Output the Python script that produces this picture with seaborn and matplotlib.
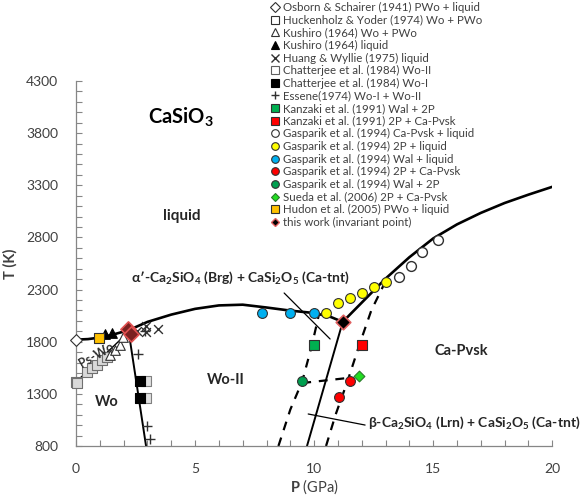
import numpy as np
import pandas as pd
import matplotlib
matplotlib.use("Agg")
import matplotlib.pyplot as plt
from matplotlib.lines import Line2D
import seaborn as sns

# ---------------- data ----------------
# phase boundaries (P in GPa, T in K)
liq_P = [0.0, 0.5, 1.0, 1.5, 2.2, 3.0, 4.0, 5.0, 6.0, 7.0, 8.0, 9.0, 10.0, 10.7, 11.2]
liq_T = [1820, 1825, 1840, 1865, 1910, 1990, 2060, 2115, 2148, 2155, 2128, 2098, 2075, 2037, 1990]
cpv_P = [11.2, 12.0, 13.0, 14.0, 15.0, 16.0, 17.0, 18.0, 19.0, 20.0]
cpv_T = [1990, 2175, 2405, 2610, 2790, 2925, 3035, 3130, 3210, 3285]
wo_pwo_P = [0.0, 2.2]
wo_pwo_T = [1414, 1893]
wo_woII_P = [2.2, 2.94]
wo_woII_T = [1912, 800]
woII_hp_P = [9.7, 11.2]
woII_hp_T = [800, 1990]
dashL_P = [8.5, 9.0, 9.5, 9.9, 10.2]
dashL_T = [800, 1150, 1420, 1760, 2060]
dashR_P = [10.5, 10.9, 11.4, 11.9, 12.4, 13.0]
dashR_T = [800, 1100, 1420, 1770, 2100, 2380]
dashH_P = [9.5, 11.4]
dashH_T = [1404, 1452]

# experimental data
osborn_P, osborn_T = [0.0], [1820]
huck_P = [0.0, 0.03, 0.45, 0.66, 0.87, 1.08, 1.29]
huck_T = [1417, 1400, 1512, 1545, 1577, 1625, 1656]
kush_wp_P = [1.43, 1.64, 1.85, 1.98]
kush_wp_T = [1672, 1720, 1768, 1848]
kush_liq_P = [1.2, 1.5]
kush_liq_T = [1875, 1885]
huang_P = [2.55, 2.95, 2.95, 3.45]
huang_T = [1900, 1950, 1890, 1920]
chat2_P = [2.95, 2.95]
chat2_T = [1420, 1260]
chat1_P = [2.7, 2.7]
chat1_T = [1420, 1260]
essene_P = [2.6, 3.0, 3.1, 2.9]
essene_T = [1680, 990, 870, 1900]
kanz_w_P, kanz_w_T = [10.0], [1768]
kanz_c_P, kanz_c_T = [12.0], [1768]
gas_cl_P = [13.55, 14.05, 14.55, 15.2]
gas_cl_T = [2420, 2530, 2660, 2775]
gas_2l_P = [10.5, 11.0, 11.5, 12.0, 12.5, 13.0]
gas_2l_T = [2075, 2171, 2219, 2267, 2324, 2372]
gas_wl_P = [7.8, 9.0, 10.0]
gas_wl_T = [2075, 2075, 2075]
gas_2c_P = [11.5, 11.05]
gas_2c_T = [1423, 1270]
gas_w2_P, gas_w2_T = [9.5], [1423]
sueda_P, sueda_T = [11.9], [1470]
hudon_P, hudon_T = [0.97], [1835]
tw_P = [2.2, 2.3]
tw_T = [1920, 1875]
inv_P, inv_T = [11.2], [1990]

legend_labels = [
    "Osborn & Schairer (1941) PWo + liquid",
    "Huckenholz & Yoder (1974) Wo + PWo",
    "Kushiro (1964) Wo + PWo",
    "Kushiro (1964) liquid",
    "Huang & Wyllie (1975) liquid",
    "Chatterjee et al. (1984) Wo-II",
    "Chatterjee et al. (1984) Wo-I",
    "Essene(1974) Wo-I + Wo-II",
    "Kanzaki et al. (1991) Wal + 2P",
    "Kanzaki et al. (1991) 2P + Ca-Pvsk",
    "Gasparik et al. (1994) Ca-Pvsk + liquid",
    "Gasparik et al. (1994) 2P + liquid",
    "Gasparik et al. (1994) Wal + liquid",
    "Gasparik et al. (1994) 2P + Ca-Pvsk",
    "Gasparik et al. (1994) Wal + 2P",
    "Sueda et al. (2006) 2P + Ca-Pvsk",
    "Hudon et al. (2005) PWo + liquid",
    "this work (invariant point)",
]

# ---------------- style ----------------
sns.set_style("ticks")
plt.rcParams['font.family'] = ['Lato', 'DejaVu Sans']
plt.rcParams['mathtext.fontset'] = 'custom'
plt.rcParams['mathtext.rm'] = 'Lato'
plt.rcParams['mathtext.bf'] = 'Lato:bold'
plt.rcParams['mathtext.it'] = 'Lato:italic'

TXT = '#404040'
AX = '#868686'
GREEN = '#00b050'
DGREEN = '#00a050'
LGREEN = '#22dd22'
BLUE = '#00b0f0'
RED = '#ff0000'
YEL = '#ffff00'
ORANGE = '#ffc000'

fig = plt.figure(figsize=(5.85, 4.98), dpi=100)
ax = fig.add_axes([0.130, 0.1044, 0.814, 0.733])

def line(P, T, lw=1.9, ls='-', color='black'):
    sns.lineplot(x=P, y=T, ax=ax, sort=False, estimator=None, color=color,
                 lw=lw, linestyle=ls, legend=False)

line(liq_P, liq_T)
line(cpv_P, cpv_T)
line(wo_pwo_P, wo_pwo_T, lw=1.0)
line(wo_woII_P, wo_woII_T, lw=1.4)
line(woII_hp_P, woII_hp_T, lw=1.4)
dash = (0, (4, 3.5))
line(dashL_P, dashL_T, lw=1.6, ls=dash)
line(dashR_P, dashR_T, lw=1.6, ls=dash)
line(dashH_P, dashH_T, lw=1.6, ls=dash)

def pts(P, T, marker, fc, ec='black', s=42, lw=0.8, z=3):
    if marker in ('x', '+'):
        sns.scatterplot(x=P, y=T, ax=ax, marker=marker, color=ec, s=s,
                        linewidth=lw, legend=False, zorder=z)
    else:
        sns.scatterplot(x=P, y=T, ax=ax, marker=marker, facecolor=fc,
                        edgecolor=ec, s=s, linewidth=lw, legend=False, zorder=z)

pts(huck_P, huck_T, 's', '#d9d9d9', '#707070', s=48)
pts(kush_wp_P, kush_wp_T, '^', 'white', '#303030', s=48)
pts(osborn_P, osborn_T, 'D', 'white', '#303030', s=36)
pts(kush_liq_P, kush_liq_T, '^', 'black', 'black', s=48)
pts(huang_P, huang_T, 'x', 'black', '#303030', s=40, lw=1.0)
pts(chat2_P, chat2_T, 's', '#e0e0e0', '#808080', s=55)
pts(chat1_P, chat1_T, 's', 'black', 'black', s=55)
pts(essene_P, essene_T, '+', 'black', '#303030', s=45, lw=1.0)
pts(kanz_w_P, kanz_w_T, 's', GREEN, '#303030', s=60)
pts(kanz_c_P, kanz_c_T, 's', RED, '#303030', s=60)
pts(gas_cl_P, gas_cl_T, 'o', 'white', '#303030', s=50, lw=1.0)
pts(gas_2l_P, gas_2l_T, 'o', YEL, '#303030', s=50)
pts(gas_wl_P, gas_wl_T, 'o', BLUE, '#303030', s=50)
pts(gas_2c_P, gas_2c_T, 'o', RED, '#303030', s=50)
pts(gas_w2_P, gas_w2_T, 'o', DGREEN, '#303030', s=50)
pts(sueda_P, sueda_T, 'D', LGREEN, '#2a7a2a', s=30)
pts(hudon_P, hudon_T, 's', ORANGE, '#303030', s=55)
pts(tw_P, tw_T, 'D', '#7a2020', '#e05050', s=60, lw=1.2, z=4)
pts(inv_P, inv_T, 'D', 'black', '#e06060', s=55, lw=1.2, z=5)
for coll in ax.collections:
    coll.set_clip_on(False)

# axes
ax.set_xlim(0, 20)
ax.set_ylim(800, 4300)
ax.set_xticks([0, 5, 10, 15, 20])
ax.set_xticks(np.arange(0, 21, 1), minor=True)
ax.set_yticks(np.arange(800, 4301, 500))
ax.set_yticks(np.arange(800, 4301, 100), minor=True)
for sp in ['top', 'right']:
    ax.spines[sp].set_visible(False)
for sp in ['left', 'bottom']:
    ax.spines[sp].set_color(AX)
    ax.spines[sp].set_linewidth(0.9)
ax.tick_params(which='both', direction='in', color=AX, length=4, width=0.8,
               labelsize=10, labelcolor=TXT)
ax.tick_params(axis='x', pad=12)
ax.tick_params(axis='y', pad=13)
ax.set_xlabel(r"$\mathbf{P}$ (GPa)", fontsize=10.5, color=TXT, labelpad=2)
ax.set_ylabel("T (K)", fontsize=10.5, color=TXT, fontweight='bold', labelpad=6)

# region labels
ax.text(4.41, 3955, r"CaSiO$_\mathbf{3}$", fontsize=14.5, fontweight='bold',
        ha='center', va='center', color='black')
ax.text(4.45, 3006, "liquid", fontsize=11, fontweight='bold', ha='center', va='center')
ax.text(6.93, 2411, r"α′-Ca$_\mathbf{2}$SiO$_\mathbf{4}$ (Brg) + CaSi$_\mathbf{2}$O$_\mathbf{5}$ (Ca-tnt)",
        fontsize=10, fontweight='bold', ha='center', va='center')
ax.text(12.27, 1020, r"β-Ca$_\mathbf{2}$SiO$_\mathbf{4}$ (Lrn) + CaSi$_\mathbf{2}$O$_\mathbf{5}$ (Ca-tnt)",
        fontsize=10, fontweight='bold', ha='left', va='center', clip_on=False)
ax.text(6.3, 1433, "Wo-II", fontsize=10.5, fontweight='bold', ha='center', va='center')
ax.text(1.3, 1222, "Wo", fontsize=10.5, fontweight='bold', ha='center', va='center')
ax.text(16.2, 1711, "Ca-Pvsk", fontsize=10.5, fontweight='bold', ha='center', va='center')
ax.text(0.88, 1673, "Ps-Wo", fontsize=9, fontweight='bold', ha='center', va='center',
        rotation=30, color='#303030')
ax.plot([8.74, 10.67], [2267, 1826], color='black', lw=0.9)
ax.plot([9.75, 12.14], [1107, 1001], color='black', lw=0.9)

# legend
def h(marker, fc, ec='black', ms=5.5, mew=0.8):
    if marker in ('x', '+'):
        return Line2D([], [], ls='none', marker=marker, color=ec, ms=ms, mew=1.0)
    return Line2D([], [], ls='none', marker=marker, markerfacecolor=fc,
                  markeredgecolor=ec, ms=ms, mew=mew)

handles = [
    h('D', 'white', '#303030', ms=5),
    h('s', 'white', '#303030'),
    h('^', 'white', '#303030'),
    h('^', 'black', 'black'),
    h('x', 'black', '#303030'),
    h('s', 'white', '#606060'),
    h('s', 'black', 'black'),
    h('+', 'black', '#303030'),
    h('s', GREEN, '#303030'),
    h('s', RED, '#303030'),
    h('o', 'white', '#303030'),
    h('o', YEL, '#303030'),
    h('o', BLUE, '#303030'),
    h('o', RED, '#303030'),
    h('o', DGREEN, '#303030'),
    h('D', LGREEN, '#2a7a2a', ms=4.5),
    h('s', ORANGE, '#303030'),
    h('D', 'black', '#e06060', ms=4.5, mew=1.0),
]
leg = fig.legend(handles, legend_labels, loc='upper left',
                 bbox_to_anchor=(270 / 585, 1 - 2 / 498), frameon=False,
                 fontsize=8.3, handlelength=0.8, handletextpad=0.35,
                 labelspacing=0.14, borderpad=0, borderaxespad=0)
for t in leg.get_texts():
    t.set_color(TXT)

fig.savefig("out.png", dpi=100)
